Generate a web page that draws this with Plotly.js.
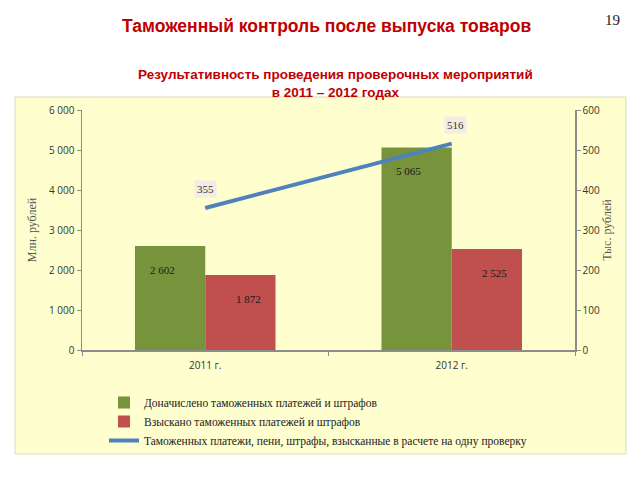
<!DOCTYPE html>
<html><head><meta charset="utf-8">
<script src="https://cdn.plot.ly/plotly-3.0.1.min.js"></script>
<style>html,body{margin:0;padding:0;background:#fff}#chart{width:640px;height:480px}</style>
</head><body><div id="chart"></div>
<script>
const categories = ['2011 г.', '2012 г.'];
const accrued = [2602, 5065];
const collected = [1872, 2525];
const perCheck = [355, 516];
const seriesNames = [
  'Доначислено таможенных платежей и штрафов',
  'Взыскано таможенных платежей и штрафов',
  'Таможенных платежи, пени, штрафы, взысканные в расчете на одну проверку'
];
const fmt = v => String(v).replace(/\B(?=(\d{3})+(?!\d))/g, ' ');

const serif = 'Liberation Serif, Times New Roman, serif';
const sans = 'Open Sans, Liberation Sans, Arial, sans-serif';

const traces = [
  {type:'bar', x:categories, y:accrued, name:seriesNames[0], marker:{color:'#77933C'}, hoverinfo:'none'},
  {type:'bar', x:categories, y:collected, name:seriesNames[1], marker:{color:'#C0504D'}, hoverinfo:'none'},
  {type:'scatter', mode:'lines', x:categories, y:perCheck, yaxis:'y2', name:seriesNames[2], line:{color:'#4F81BD', width:4}, hoverinfo:'none'}
];

const annotations = [];
[[accrued, -0.175], [collected, 0.175]].forEach(([arr, off]) => {
  arr.forEach((v, i) => {
    annotations.push({x: i + off, y: v - 600, xref:'x', yref:'y', text: fmt(v), showarrow:false,
      font:{family:serif, size:11, color:'#1a1a1a'}});
  });
});
perCheck.forEach((v, i) => {
  annotations.push({x: categories[i], y: v, xref:'x', yref:'y2', text: String(v), showarrow:false,
    yshift: 19, xshift: i === 1 ? 4 : 0, bgcolor:'#F5ECE2', borderpad:2,
    font:{family:serif, size:11, color:'#333'}});
});
annotations.push({xref:'paper', yref:'paper', xanchor:'center', yanchor:'middle',
  x:(326-82)/493, y:(350-26)/240, text:'<b>Таможенный контроль после выпуска товаров</b>', showarrow:false,
  font:{family:'Liberation Sans, Arial, sans-serif', size:17.5, color:'#C00000'}});
annotations.push({xref:'paper', yref:'paper', xanchor:'center', yanchor:'middle',
  x:(612-82)/493, y:(350-20)/240, text:'19', showarrow:false,
  font:{family:serif, size:15, color:'#222'}});
annotations.push({xref:'paper', yref:'paper', xanchor:'center', yanchor:'middle',
  x:(335-82)/493, y:(350-84)/240, text:'<b>Результативность проведения проверочных мероприятий<br>в 2011 – 2012 годах</b>', showarrow:false,
  font:{family:'Liberation Sans, Arial, sans-serif', size:13.5, color:'#C00000'}});

const layout = {
  width:640, height:480,
  paper_bgcolor:'#ffffff', plot_bgcolor:'rgba(0,0,0,0)',
  margin:{l:82, r:65, t:110, b:130},
  barmode:'group', bargap:0.43, bargroupgap:0,
  showlegend:true,
  legend:{x:(104-82)/493, y:(350-388)/240, xanchor:'left', yanchor:'top', orientation:'v',
    font:{family:serif, size:11.5, color:'#222'}, bgcolor:'rgba(0,0,0,0)', tracegroupgap:0, itemwidth:30},
  xaxis:{type:'category', showline:true, linecolor:'#8c8c8c', linewidth:1.5, ticks:'outside', tickson:'boundaries',
    ticklen:4, tickcolor:'#8c8c8c', ticklabelstandoff:5, tickfont:{family:sans, size:10, color:'#333'}, showgrid:false, zeroline:false, fixedrange:true},
  yaxis:{range:[0,6000], dtick:1000, tickformat:',d', showline:true, linecolor:'#8c8c8c', linewidth:1.5,
    ticks:'outside', ticklen:4, tickcolor:'#8c8c8c', showgrid:false, zeroline:false,
    tickfont:{family:sans, size:10, color:'#333'},
    title:{text:'Млн. рублей', font:{family:serif, size:12, color:'#555'}, standoff:10}},
  yaxis2:{range:[0,600], dtick:100, overlaying:'y', side:'right', showline:true, linecolor:'#8c8c8c', linewidth:1.5,
    ticks:'outside', ticklen:4, tickcolor:'#8c8c8c', showgrid:false, zeroline:false,
    tickfont:{family:sans, size:10, color:'#333'},
    title:{text:'Тыс. рублей', font:{family:serif, size:12, color:'#555'}, standoff:2}},
  separators:', ',
  shapes:[
    {type:'rect', xref:'paper', yref:'paper', layer:'below',
      x0:(15-82)/493, x1:(626-82)/493, y0:(350-454)/240, y1:(350-97)/240,
      fillcolor:'#FEFECE', line:{color:'#dcdcc0', width:1}}
  ],
  annotations: annotations
};

Plotly.newPlot('chart', traces, layout, {staticPlot:true, displayModeBar:false});
</script>
</body></html>
